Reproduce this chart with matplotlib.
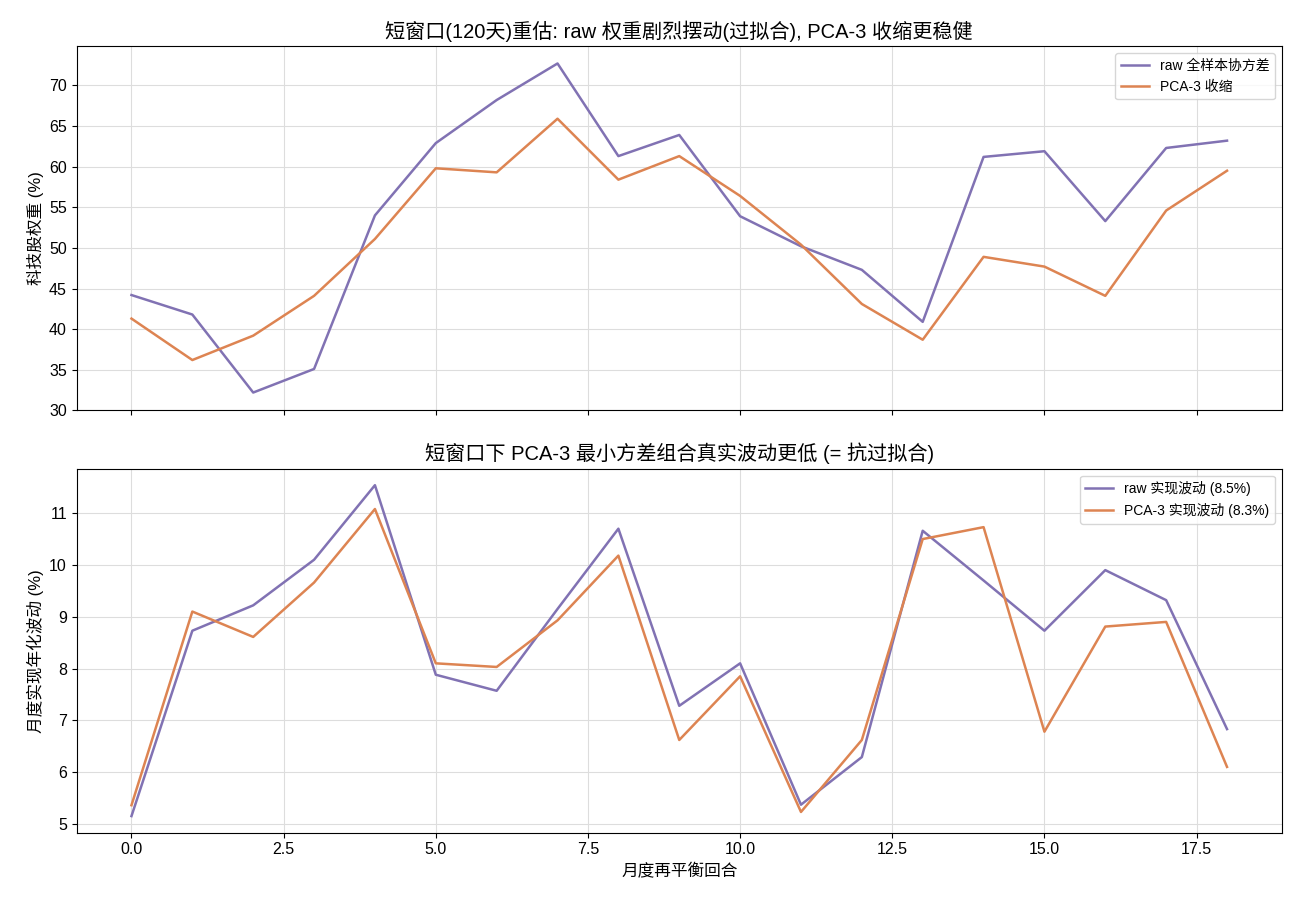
import numpy as np
import matplotlib
matplotlib.use('Agg')
import matplotlib.pyplot as plt

plt.rcParams['font.family'] = ['Liberation Sans', 'Noto Sans CJK SC', 'DejaVu Sans']
plt.rcParams['axes.unicode_minus'] = False

# rebalance rounds
rounds = np.arange(19)

# top panel: tech weight (%)
w_raw = [44.2, 41.8, 32.2, 35.1, 54.0, 62.9, 68.2, 72.7, 61.3, 63.9,
         53.9, 50.2, 47.3, 40.9, 61.2, 61.9, 53.3, 62.3, 63.2]
w_pca = [41.3, 36.2, 39.2, 44.1, 51.1, 59.8, 59.3, 65.9, 58.4, 61.3,
         56.4, 50.4, 43.1, 38.7, 48.9, 47.7, 44.1, 54.6, 59.5]

# bottom panel: realized annualized vol (%)
v_raw = [5.15, 8.73, 9.22, 10.10, 11.54, 7.88, 7.57, 9.15, 10.70, 7.28,
         8.10, 5.37, 6.29, 10.66, 9.70, 8.73, 9.90, 9.32, 6.83]
v_pca = [5.36, 9.10, 8.61, 9.66, 11.08, 8.10, 8.03, 8.93, 10.18, 6.62,
         7.85, 5.23, 6.62, 10.50, 10.73, 6.78, 8.81, 8.90, 6.10]

c_raw = '#8172B3'
c_pca = '#DD8452'

fig, (ax1, ax2) = plt.subplots(2, 1, figsize=(13, 9.1), dpi=100, sharex=True)
fig.subplots_adjust(left=0.059, right=0.986, top=0.949, bottom=0.085, hspace=0.16)

ax1.plot(rounds, w_raw, color=c_raw, lw=1.8, label='raw 全样本协方差')
ax1.plot(rounds, w_pca, color=c_pca, lw=1.8, label='PCA-3 收缩')
ax1.set_title('短窗口(120天)重估: raw 权重剧烈摆动(过拟合), PCA-3 收缩更稳健', fontsize=14.5)
ax1.set_ylabel('科技股权重 (%)', fontsize=12)
ax1.set_ylim(30, 74.8)
ax1.legend(loc='upper right', fontsize=10)
ax1.grid(True, color='#dddddd', lw=0.8)

ax2.plot(rounds, v_raw, color=c_raw, lw=1.8,
         label=f'raw 实现波动 ({np.mean(v_raw):.1f}%)')
ax2.plot(rounds, v_pca, color=c_pca, lw=1.8,
         label=f'PCA-3 实现波动 ({np.mean(v_pca):.1f}%)')
ax2.set_title('短窗口下 PCA-3 最小方差组合真实波动更低 (= 抗过拟合)', fontsize=14.5)
ax2.set_ylabel('月度实现年化波动 (%)', fontsize=12)
ax2.set_xlabel('月度再平衡回合', fontsize=12)
ax2.legend(loc='upper right', fontsize=10)
ax2.grid(True, color='#dddddd', lw=0.8)

for ax in (ax1, ax2):
    ax.tick_params(labelsize=11.5)
    ax.set_axisbelow(True)

plt.savefig('out.png', dpi=100)
plt.close()
